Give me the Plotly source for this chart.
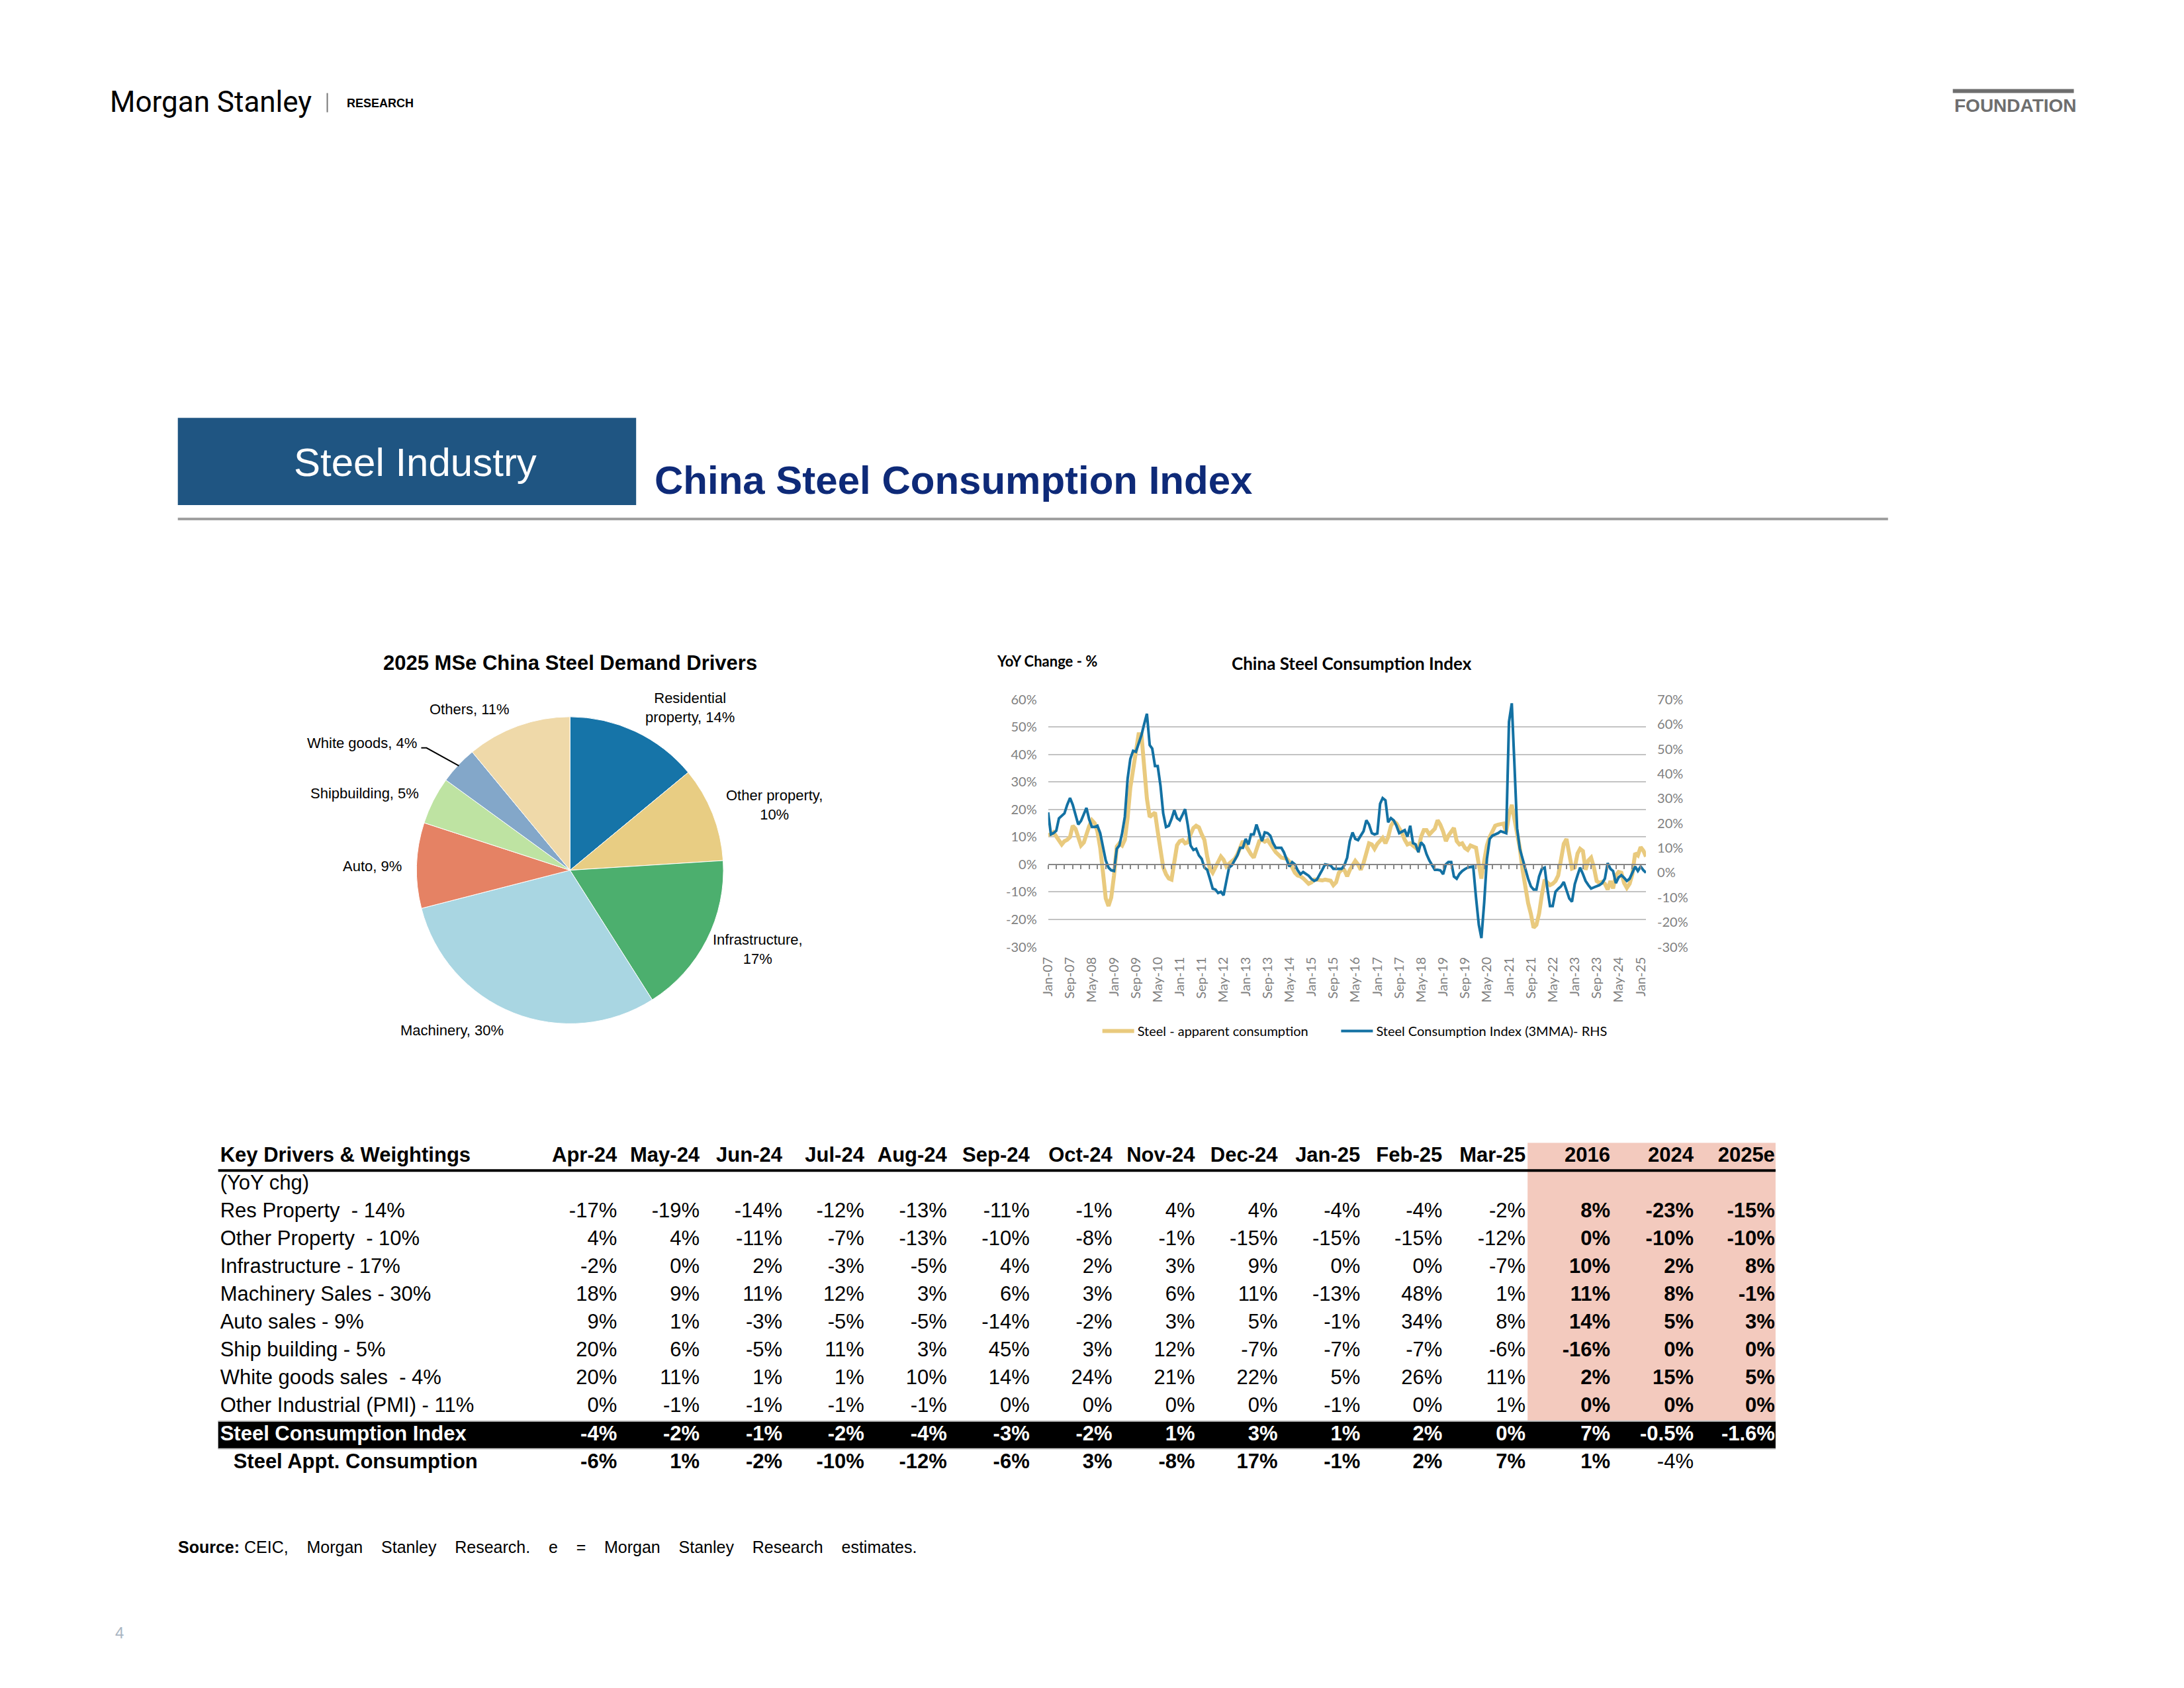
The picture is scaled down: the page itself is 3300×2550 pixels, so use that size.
import plotly.graph_objects as go
import pandas as pd

W, H = 3300, 2550

# ---------------- Pie data ----------------
pie_labels = ["Residential property", "Other property", "Infrastructure", "Machinery",
              "Auto", "Shipbuilding", "White goods", "Others"]
pie_values = [14, 10, 17, 30, 9, 5, 4, 11]
pie_colors = ["#1674A8", "#E8CD83", "#4CAF6E", "#A9D6E2", "#E58264", "#BEE3A2", "#83A7C9", "#EFD9A9"]

# ---------------- Line chart data (YoY %, monthly Jan-07 .. Mar-25) ----------------
months = pd.date_range("2007-01-01", "2025-03-01", freq="MS")

steel_apparent = (
    [10.7, 11.0, 11.7, 10.0, 8.5, 7.3, 8.5, 9.0, 10.0, 14.1, 13.0, 9.5] +          # 2007
    [6.9, 8.0, 11.0, 14.0, 16.1, 15.0, 12.0, 6.0, -3.0, -12.3, -15.1, -12.0] +     # 2008
    [-4.0, 6.5, 7.7, 6.9, 9.0, 17.0, 28.0, 34.2, 42.0, 47.4, 47.4, 36.0] +         # 2009
    [24.0, 17.3, 18.0, 18.9, 12.0, 4.5, -1.0, -3.5, -5.1, -5.5, 1.0, 7.0] +        # 2010
    [8.5, 8.9, 7.7, 8.1, 11.0, 13.3, 14.1, 13.5, 11.0, 9.0, 2.9, -1.5] +           # 2011
    [-3.0, -1.1, 1.0, 2.9, 1.7, -0.7, 0.3, 1.0, 2.0, 3.7, 6.5, 8.5] +              # 2012
    [7.0, 5.0, 3.7, 2.5, 6.0, 8.5, 9.0, 8.3, 8.9, 7.3, 6.0, 4.5] +                 # 2013
    [3.5, 2.5, 2.3, 2.1, 1.0, -1.0, -3.0, -4.0, -4.3, -5.0, -5.9, -7.0] +          # 2014
    [-6.5, -5.5, -5.5, -5.8, -5.8, -5.5, -5.6, -5.9, -7.5, -6.5, -3.0, -1.9] +     # 2015
    [-2.0, -4.3, -2.0, 0.0, 1.3, 0.0, -1.9, 0.5, 4.0, 7.7, 7.3, 5.7] +             # 2016
    [7.5, 8.5, 9.7, 7.7, 10.0, 14.0, 15.7, 14.9, 13.3, 11.5, 9.0, 7.3] +           # 2017
    [7.7, 7.0, 6.0, 5.3, 10.0, 12.5, 12.5, 10.9, 12.0, 13.0, 16.1, 14.5] +         # 2018
    [12.0, 8.5, 10.5, 12.0, 13.3, 8.5, 7.3, 7.7, 6.0, 5.3, 6.9, 6.5] +             # 2019
    [6.1, 0.0, -5.1, 1.3, 7.0, 10.0, 11.7, 14.1, 14.5, 14.8, 14.9, 11.7] +         # 2020
    [18.0, 21.7, 17.0, 11.0, 6.0, -2.0, -9.0, -14.0, -18.0, -23.0, -22.0, -17.9] + # 2021
    [-11.0, -5.5, -6.5, -7.5, -7.0, -6.0, -4.0, 1.0, 7.5, 9.3, 3.0, -1.5] +        # 2022
    [-1.1, 4.0, 5.7, 4.9, -1.9, 1.5, 2.5, -1.0, -6.0, -6.7, -6.3, -7.0] +          # 2023
    [-9.1, -6.0, -8.7, -4.0, -2.7, -3.0, -6.7, -8.5, -7.0, -3.5, 4.1, 3.3] +       # 2024
    [6.3, 5.0, 2.9]                                                                # 2025
)

sci_3mma = (
    [24.4, 15.5, 16.0, 17.0, 22.0, 23.0, 24.0, 27.5, 30.2, 27.5, 23.0, 19.5] +     # 2007
    [21.0, 23.5, 26.2, 21.5, 18.5, 18.5, 19.0, 16.0, 10.5, 5.0, 2.1, 1.0] +        # 2008
    [0.7, 9.7, 11.0, 16.0, 22.6, 38.0, 46.0, 49.3, 48.9, 52.0, 55.6, 60.0] +       # 2009
    [64.3, 51.6, 50.2, 43.1, 43.1, 35.1, 24.0, 18.5, 19.0, 21.7, 25.3, 22.1] +     # 2010
    [21.2, 23.5, 25.7, 19.0, 11.0, 9.2, 9.7, 7.0, 5.6, 2.1, 1.2, -2.4] +           # 2011
    [-6.4, -6.8, -8.2, -7.7, -9.1, -3.3, 2.1, 3.0, 5.0, 7.0, 10.1, 10.1] +         # 2012
    [13.7, 11.4, 15.5, 15.5, 19.5, 16.3, 12.8, 16.3, 16.0, 15.0, 12.0, 10.1] +     # 2013
    [10.1, 10.1, 8.3, 5.0, 2.5, 4.3, 3.4, 1.0, -0.6, 0.3, -0.6, -1.2] +            # 2014
    [-2.5, -3.3, -2.8, -1.0, 1.2, 3.4, 3.2, 3.0, 1.6, 1.6, 1.6, 1.6] +             # 2015
    [3.0, 6.1, 12.8, 16.3, 13.7, 13.2, 15.0, 16.8, 21.2, 19.5, 16.0, 15.5] +       # 2016
    [15.9, 27.9, 30.2, 29.3, 20.4, 22.1, 21.2, 19.0, 16.0, 16.5, 17.2, 14.6] +     # 2017
    [19.0, 12.0, 11.5, 8.3, 12.3, 11.0, 7.5, 5.0, 3.0, 1.2, 1.2, 1.0] +            # 2018
    [-0.6, 3.4, 4.3, 4.3, -1.5, -2.4, -0.5, 0.7, 1.5, 2.1, 2.3, 2.5] +             # 2019
    [-10.0, -21.0, -26.4, -12.0, 5.6, 13.7, 15.0, 15.5, 16.0, 16.8, 16.5, 16.0] +  # 2020
    [61.0, 68.5, 45.0, 18.0, 9.7, 5.6, 2.1, -2.4, -5.5, -6.8, -6.8, -1.5] +        # 2021
    [1.6, 2.1, -5.9, -13.5, -13.5, -7.7, -6.5, -5.5, -3.7, -6.8, -10.4, -11.7] +   # 2022
    [-4.6, -1.0, 2.1, -0.5, -3.3, -5.0, -6.4, -5.9, -5.5, -5.0, -4.2, -2.4] +      # 2023
    [3.9, 1.6, 0.7, -4.2, -1.9, -1.0, -2.0, -3.3, -2.4, 0.3, 2.5, 0.7] +           # 2024
    [2.5, 1.0, 0.0]                                                                # 2025
)

left_tickvals = [-30, -20, -10, 0, 10, 20, 30, 40, 50, 60]
left_ticktext = ["-30%", "-20%", "-10%", "0%", "10%", "20%", "30%", "40%", "50%", "60%"]
right_tickvals = [-30, -20, -10, 0, 10, 20, 30, 40, 50, 60, 70]
right_ticktext = ["-30%", "-20%", "-10%", "0%", "10%", "20%", "30%", "40%", "50%", "60%", "70%"]

# ---------------- Table data ----------------
table_title = "Key Drivers & Weightings"
month_cols = ["Apr-24", "May-24", "Jun-24", "Jul-24", "Aug-24", "Sep-24", "Oct-24", "Nov-24",
              "Dec-24", "Jan-25", "Feb-25", "Mar-25"]
year_cols = ["2016", "2024", "2025e"]
row_labels = ["(YoY chg)", "Res Property  - 14%", "Other Property  - 10%", "Infrastructure - 17%",
              "Machinery Sales - 30%", "Auto sales - 9%", "Ship building - 5%",
              "White goods sales  - 4%", "Other Industrial (PMI) - 11%",
              "Steel Consumption Index", "Steel Appt. Consumption"]
yoy_chg = [""] * 15
res_property = ["-17%", "-19%", "-14%", "-12%", "-13%", "-11%", "-1%", "4%", "4%", "-4%", "-4%", "-2%", "8%", "-23%", "-15%"]
other_property = ["4%", "4%", "-11%", "-7%", "-13%", "-10%", "-8%", "-1%", "-15%", "-15%", "-15%", "-12%", "0%", "-10%", "-10%"]
infrastructure = ["-2%", "0%", "2%", "-3%", "-5%", "4%", "2%", "3%", "9%", "0%", "0%", "-7%", "10%", "2%", "8%"]
machinery_sales = ["18%", "9%", "11%", "12%", "3%", "6%", "3%", "6%", "11%", "-13%", "48%", "1%", "11%", "8%", "-1%"]
auto_sales = ["9%", "1%", "-3%", "-5%", "-5%", "-14%", "-2%", "3%", "5%", "-1%", "34%", "8%", "14%", "5%", "3%"]
ship_building = ["20%", "6%", "-5%", "11%", "3%", "45%", "3%", "12%", "-7%", "-7%", "-7%", "-6%", "-16%", "0%", "0%"]
white_goods = ["20%", "11%", "1%", "1%", "10%", "14%", "24%", "21%", "22%", "5%", "26%", "11%", "2%", "15%", "5%"]
other_industrial = ["0%", "-1%", "-1%", "-1%", "-1%", "0%", "0%", "0%", "0%", "-1%", "0%", "1%", "0%", "0%", "0%"]
steel_consumption_index = ["-4%", "-2%", "-1%", "-2%", "-4%", "-3%", "-2%", "1%", "3%", "1%", "2%", "0%", "7%", "-0.5%", "-1.6%"]
steel_appt_consumption = ["-6%", "1%", "-2%", "-10%", "-12%", "-6%", "3%", "-8%", "17%", "-1%", "2%", "7%", "1%", "-4%", ""]

# ---------------- helpers / layout constants ----------------
# page-pixel -> paper mapping (with a small calibration of the photographed page)
AX, BX = 0.9959, 12.1
AY, BY = 0.9914, 11.3


def px(x):
    return ((x - BX) / AX) / W


def py(y):
    return 1 - ((y - BY) / AY) / H


ARIAL = "Liberation Sans, Arial, sans-serif"
CAL = "Lato, Carlito, Calibri, sans-serif"
PINK = "#F3CABE"

fig = go.Figure()

# ---------- Pie ----------
pcx, pcy, pr = 860, 1314, 232
fig.add_trace(go.Pie(
    labels=pie_labels, values=pie_values, sort=False, direction="clockwise", rotation=0,
    marker=dict(colors=pie_colors, line=dict(color="white", width=1)),
    textinfo="none", hoverinfo="label+percent", showlegend=False,
    domain=dict(x=[px(pcx - pr), px(pcx + pr)], y=[py(pcy + pr), py(pcy - pr)]),
))

# ---------- Line chart ----------
x_l, x_r = 1583, 2487
y_t, y_b = 1056, 1430
ydom = [py(y_b), py(y_t)]
zero_pos = ydom[0] + (0 - (-30)) / (60 - (-30)) * (ydom[1] - ydom[0])

fig.add_trace(go.Scatter(
    x=months, y=steel_apparent, mode="lines", name="Steel - apparent consumption",
    line=dict(color="#E9CA7E", width=6), xaxis="x", yaxis="y", legend="legend",
))
fig.add_trace(go.Scatter(
    x=months, y=sci_3mma, mode="lines", name="Steel Consumption Index (3MMA)- RHS",
    line=dict(color="#1371A3", width=4), xaxis="x2", yaxis="y2", legend="legend2",
))

xrange = ["2007-01-01", "2025-03-01"]
ytickfont = dict(family=CAL, size=20, color="#7F7F7F")
xtickfont = dict(family=CAL, size=20, color="#7F7F7F")

# ---------- Table (text traces on a hidden pixel-scaled axis pair) ----------
table_rows = [yoy_chg, res_property, other_property, infrastructure, machinery_sales, auto_sales,
              ship_building, white_goods, other_industrial, steel_consumption_index, steel_appt_consumption]
headers = month_cols + year_cols
n_body = len(table_rows)
row_idx = list(range(n_body + 1))          # 0 = header row
col_right = [931, 1056, 1181, 1305, 1430, 1555, 1680, 1805, 1930, 2055, 2179, 2305, 2433, 2559, 2682]
label_left = [331] + [331] * 10 + [351]
TFS = 31

lab_text = ["<b>" + table_title + "</b>"]
lab_color = ["black"]
for r, lab in enumerate(row_labels):
    lab_text.append("<b>" + lab + "</b>" if r >= 9 else lab)
    lab_color.append("white" if r == 9 else "black")
fig.add_trace(go.Scatter(
    x=label_left, y=row_idx, text=lab_text, mode="text", textposition="middle right",
    textfont=dict(family=ARIAL, size=TFS, color=lab_color), showlegend=False, hoverinfo="skip",
    xaxis="x3", yaxis="y3", cliponaxis=False,
))
for c, hdr in enumerate(headers):
    is_year = c >= len(month_cols)
    texts = ["<b>" + hdr + "</b>"]
    colors = ["black"]
    for r in range(n_body):
        v = table_rows[r][c]
        bold = (r == 9) or (is_year and r < 9) or (r == 10 and not (is_year and c == len(month_cols) + 1))
        texts.append("<b>" + v + "</b>" if (bold and v) else v)
        colors.append("white" if r == 9 else "black")
    fig.add_trace(go.Scatter(
        x=[col_right[c]] * len(texts), y=row_idx, text=texts, mode="text", textposition="middle left",
        textfont=dict(family=ARIAL, size=TFS, color=colors), showlegend=False, hoverinfo="skip",
        xaxis="x3", yaxis="y3", cliponaxis=False,
    ))

# ---------- annotations ----------
ann = []


def add_text(x, y, text, size, color="#000000", family=ARIAL, xanchor="left", yanchor="middle", align="left"):
    ann.append(dict(x=px(x), y=py(y), xref="paper", yref="paper", text=text, showarrow=False,
                    xanchor=xanchor, yanchor=yanchor, align=align,
                    font=dict(size=size, color=color, family=family)))


# page header
add_text(162, 152, "Morgan Stanley", 44, family="Roboto, Liberation Sans, sans-serif")
add_text(520, 154, "<b>RESEARCH</b>", 18)
add_text(2951, 158, "<b>FOUNDATION</b>", 28, color="#6E6E6E")
add_text(626, 697, "Steel Industry", 60, color="white", xanchor="center")
add_text(986, 724, "<b>China Steel Consumption Index</b>", 60, color="#0E2A78")

# pie title and labels
add_text(860, 1001, "<b>2025 MSe China Steel Demand Drivers</b>", 31, xanchor="center")
pie_text = {lab: f"{lab}, {v}%" for lab, v in zip(pie_labels, pie_values)}
add_text(1041, 1068, f"Residential<br>property, {pie_values[0]}%", 22, xanchor="center", align="center")
add_text(1169, 1215, f"Other property,<br>{pie_values[1]}%", 22, xanchor="center", align="center")
add_text(1144, 1433, f"Infrastructure,<br>{pie_values[2]}%", 22, xanchor="center", align="center")
add_text(682, 1556, pie_text["Machinery"], 22, xanchor="center")
add_text(608, 1308, pie_text["Auto"], 22, xanchor="right")
add_text(634, 1198, pie_text["Shipbuilding"], 22, xanchor="right")
add_text(631, 1122, pie_text["White goods"], 22, xanchor="right")
add_text(708, 1071, pie_text["Others"], 22, xanchor="center")

# line chart titles
add_text(1503, 998, "<b>YoY Change - %</b>", 22, family=CAL)
add_text(2042, 1001, "<b>China Steel Consumption Index</b>", 26, family=CAL, xanchor="center")

# source and page number
gap = "\u00a0\u00a0\u00a0 "
src = "<b>Source:</b> " + gap.join(["CEIC,", "Morgan", "Stanley", "Research.", "e", "=", "Morgan",
                                    "Stanley", "Research", "estimates."])
add_text(265, 2337, src, 25)
add_text(170, 2467, "4", 24, color="#A9B5C2")

# ---------- shapes ----------
shapes = [
    dict(type="rect", xref="paper", yref="paper", x0=px(267), x1=px(960), y0=py(762), y1=py(630),
         fillcolor="#1F5582", line=dict(width=0), layer="below"),
    dict(type="line", xref="paper", yref="paper", x0=px(267), x1=px(2853), y0=py(783), y1=py(783),
         line=dict(color="#A0A0A0", width=4)),
    dict(type="line", xref="paper", yref="paper", x0=px(2951), x1=px(3134), y0=py(136), y1=py(136),
         line=dict(color="#6E6E6E", width=6)),
    dict(type="line", xref="paper", yref="paper", x0=px(493), x1=px(493), y0=py(139), y1=py(168),
         line=dict(color="#777777", width=2)),
    dict(type="path", xref="paper", yref="paper",
         path=f"M {px(635)},{py(1129)} L {px(643)},{py(1129)} L {px(692)},{py(1156)}",
         line=dict(color="black", width=2)),
    # table decorations (axis x3/y3: x in page pixels, y in row units)
    dict(type="rect", xref="x3", yref="y3", x0=2308, x1=2683, y0=-0.5, y1=9.5,
         fillcolor=PINK, line=dict(width=0), layer="below"),
    dict(type="rect", xref="x3", yref="y3", x0=328, x1=2683, y0=9.5, y1=10.5,
         fillcolor="black", line=dict(width=0), layer="below"),
    dict(type="line", xref="x3", yref="y3", x0=328, x1=2683, y0=0.5, y1=0.5,
         line=dict(color="black", width=4)),
    dict(type="line", xref="x3", yref="y3", x0=328, x1=2683, y0=9.5, y1=9.5,
         line=dict(color="#C8C8C8", width=2)),
    dict(type="line", xref="x3", yref="y3", x0=328, x1=2683, y0=10.5, y1=10.5,
         line=dict(color="#C8C8C8", width=2)),
]

legend_common = dict(orientation="h", xanchor="left", yanchor="middle",
                     font=dict(family=CAL, size=20, color="black"), itemwidth=48,
                     bgcolor="rgba(0,0,0,0)")

fig.update_layout(
    width=W, height=H, margin=dict(l=0, r=0, t=0, b=0),
    paper_bgcolor="white", plot_bgcolor="rgba(0,0,0,0)",
    font=dict(family=ARIAL, color="black"),
    xaxis=dict(domain=[px(x_l), px(x_r)], type="date", range=xrange, tick0="2007-01-01", dtick="M8",
               tickformat="%b-%y", tickangle=-90, ticks="", showgrid=False, showline=False, zeroline=False,
               tickfont=xtickfont, ticklabelstandoff=10, anchor="y"),
    xaxis2=dict(overlaying="x", type="date", range=xrange, tick0="2007-01-01", dtick="M3",
                anchor="free", position=zero_pos, ticks="outside", ticklen=6, tickwidth=2,
                tickcolor="#878787", showticklabels=False, showline=True, linecolor="#878787",
                linewidth=2, showgrid=False, zeroline=False),
    yaxis=dict(domain=ydom, range=[-30, 60], tickmode="array", tickvals=left_tickvals,
               ticktext=left_ticktext, showgrid=True, gridcolor="#C3C3C3", gridwidth=2,
               zeroline=False, showline=False, ticks="", tickfont=ytickfont, ticklabelstandoff=16,
               anchor="x"),
    yaxis2=dict(overlaying="y", side="right", anchor="x2", range=[-30, 70], tickmode="array",
                tickvals=right_tickvals, ticktext=right_ticktext, showgrid=False, zeroline=False,
                showline=False, ticks="", tickfont=ytickfont, ticklabelstandoff=16),
    xaxis3=dict(domain=[0, 1], range=[BX, BX + AX * W], visible=False, fixedrange=True, anchor="y3"),
    yaxis3=dict(domain=[py(2231), py(1726)], range=[n_body + 0.5, -0.5], visible=False,
                fixedrange=True, anchor="x3"),
    legend=dict(x=px(1660), y=py(1557), **legend_common),
    legend2=dict(x=px(2021), y=py(1557), **legend_common),
    annotations=ann, shapes=shapes,
)

fig.write_html(
    "out.html",
    config={"displayModeBar": False},
    post_script=("document.body.style.margin='0px';"
                 "document.body.style.overflow='hidden';"
                 "document.documentElement.style.overflow='hidden';"),
)
